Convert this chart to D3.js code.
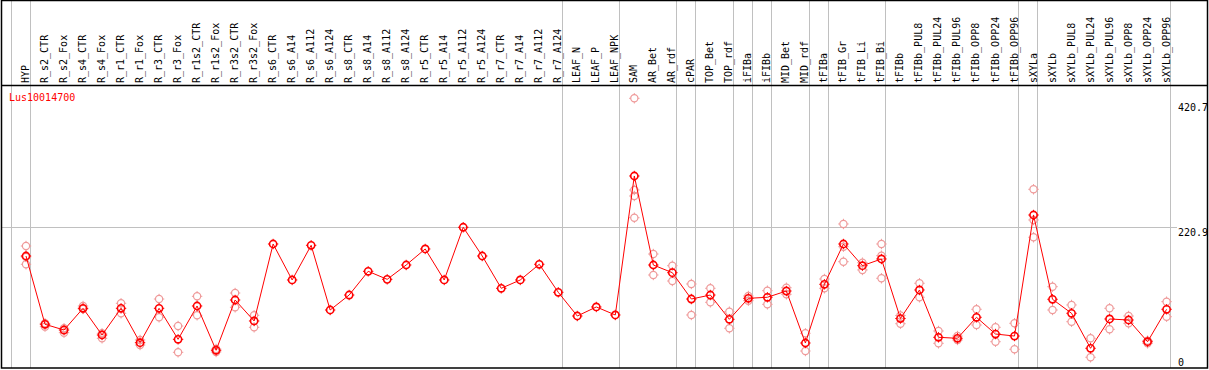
<!DOCTYPE html>
<html>
<head>
<meta charset="utf-8">
<script src="https://cdn.jsdelivr.net/npm/d3@7"></script>
<style>
  body { margin: 0; background: #fff; }
  svg { display: block; }
  text { font-family: "DejaVu Sans Mono", monospace; font-size: 10px; }
</style>
</head>
<body>
<div id="chart"></div>
<script>
// gene shown
var geneId = "Lus10014700";

// sample names, left to right
var categories = [
  "HYP", "R_s2_CTR", "R_s2_Fox", "R_s4_CTR", "R_s4_Fox", "R_r1_CTR", "R_r1_Fox",
  "R_r3_CTR", "R_r3_Fox", "R_r1s2_CTR", "R_r1s2_Fox", "R_r3s2_CTR", "R_r3s2_Fox",
  "R_s6_CTR", "R_s6_A14", "R_s6_A112", "R_s6_A124", "R_s8_CTR", "R_s8_A14",
  "R_s8_A112", "R_s8_A124", "R_r5_CTR", "R_r5_A14", "R_r5_A112", "R_r5_A124",
  "R_r7_CTR", "R_r7_A14", "R_r7_A112", "R_r7_A124", "LEAF_N", "LEAF_P", "LEAF_NPK",
  "SAM", "AR_Bet", "AR_rdf", "cPAR", "TOP_Bet", "TOP_rdf", "iFIBa", "iFIBb",
  "MID_Bet", "MID_rdf", "tFIBa", "tFIB_Gr", "tFIB_Li", "tFIB_Bi", "tFIBb",
  "tFIBb_PUL8", "tFIBb_PUL24", "tFIBb_PUL96", "tFIBb_OPP8", "tFIBb_OPP24", "tFIBb_OPP96",
  "sXYLa", "sXYLb", "sXYLb_PUL8", "sXYLb_PUL24", "sXYLb_PUL96", "sXYLb_OPP8",
  "sXYLb_OPP24", "sXYLb_OPP96"
];

// mean expression per sample
var means = [
  176.5, 70.8, 61.9, 95.5, 54.2, 95.5, 42.3, 95.5, 47.5, 99.1, 30.5, 108.4, 75.9,
  195.1, 139.4, 193.1, 92.9, 116.1, 152.8, 140.4, 162.6, 187.4, 139.4, 221.0, 176.5,
  126.5, 139.4, 163.7, 120.3, 83.6, 97.6, 85.2,
  300.4, 162.6, 150.7, 109.9, 116.1, 78.5, 111.0, 112.6, 122.3, 41.8, 132.7,
  195.1, 161.5, 171.9, 79.7, 123.9, 50.6, 49.1, 81.6, 55.7, 52.6,
  240.0, 109.5, 87.8, 33.6, 79.0, 77.4, 43.8, 94.0
];

// replicate values per sample
var replicates = [
  [192.0, 175.0, 163.7], [72.3, 67.1], [64.6, 57.8], [99.1, 94.5], [56.8, 49.1],
  [103.3, 87.8], [46.5, 38.7], [109.9, 81.6], [68.1, 27.4], [114.1, 84.7],
  [32.5, 27.9], [119.2, 97.1], [84.7, 66.1],
  [], [], [], [], [], [], [], [], [], [], [], [], [], [], [], [], [], [], [],
  [420.7, 278.7, 269.4, 235.8], [179.6, 147.1], [161.5, 137.8], [133.2, 85.2],
  [126.5, 104.8], [90.3, 64.6], [114.6, 107.3], [122.8, 101.7], [127.4, 117.2],
  [56.8, 29.4], [140.9, 126.5], [226.1, 190.9, 167.7], [166.2, 154.9],
  [195.1, 177.0, 142.0], [84.4, 71.7], [134.3, 112.6], [60.4, 41.3], [52.6, 46.5],
  [94.0, 69.7], [66.1, 43.8], [72.3, 32.1],
  [279.8, 232.3, 205.5], [129.0, 92.9], [100.7, 74.8], [49.1, 19.7], [95.5, 63.0],
  [83.6, 72.3], [45.4, 41.3], [105.8, 82.5]
];

// how many samples fall in each tissue group (separator lines)
var groupSizes = [1, 28, 3, 3, 1, 2, 1, 1, 2, 1, 3, 7, 1, 7];

// right-hand labels
var yTicks = [420.7, 220.9, 0];
var gridValue = 220.9;

var W = 1209, H = 370;
var headerY = 85, bottomY = 368, leftX = 1, rightX = 1207;

var svg = d3.select("#chart").append("svg")
  .attr("width", W)
  .attr("height", H);

var x = d3.scaleBand()
  .domain(categories)
  .range([10.7, 1170.3]);
var px = function(c) { return x(c) + x.bandwidth() * 0.805; };

var y = d3.scaleLinear()
  .domain([0, d3.max(yTicks)])
  .range([370, 98.3]);

// group separator lines, through header and plot
var bounds = [0];
groupSizes.forEach(function(n) { bounds.push(bounds[bounds.length - 1] + n); });
svg.append("g")
  .selectAll("line")
  .data(bounds)
  .enter().append("line")
    .attr("x1", function(b) { return Math.round(10.7 + b * x.step()) + 0.5; })
    .attr("x2", function(b) { return Math.round(10.7 + b * x.step()) + 0.5; })
    .attr("y1", 0)
    .attr("y2", bottomY)
    .attr("stroke", "#c0c0c0")
    .attr("stroke-width", 1);

// horizontal grid line
svg.append("line")
  .attr("x1", leftX)
  .attr("x2", 1177)
  .attr("y1", Math.round(y(gridValue)) + 0.5)
  .attr("y2", Math.round(y(gridValue)) + 0.5)
  .attr("stroke", "#c0c0c0");

// frame
svg.append("rect")
  .attr("x", leftX + 0.5)
  .attr("y", 0.5)
  .attr("width", rightX - leftX)
  .attr("height", bottomY - 0.5)
  .attr("fill", "none")
  .attr("stroke", "#000")
  .attr("stroke-width", 1.5);
svg.append("line")
  .attr("x1", leftX).attr("x2", rightX)
  .attr("y1", headerY + 0.5).attr("y2", headerY + 0.5)
  .attr("stroke", "#000")
  .attr("stroke-width", 1.5);

// column labels, rotated
svg.append("g")
  .selectAll("text")
  .data(categories)
  .enter().append("text")
    .attr("transform", function(c) { return "translate(" + (px(c) + 3) + "," + (headerY - 2) + ") rotate(-90)"; })
    .attr("fill", "#000")
    .text(function(c) { return c; });

// gene name
svg.append("text")
  .attr("x", 9)
  .attr("y", 100.5)
  .attr("fill", "#ff0000")
  .text(geneId);

// value labels on the right
svg.append("g")
  .selectAll("text")
  .data(yTicks)
  .enter().append("text")
    .attr("x", 1178)
    .attr("y", function(v) { return Math.max(110.5, Math.min(365.5, y(v) + 9)); })
    .attr("fill", "#000")
    .text(function(v) { return v; });

function marker(g, color, sw) {
  g.append("circle")
    .attr("r", 3.6)
    .attr("fill", "none")
    .attr("stroke", color)
    .attr("stroke-width", sw);
  [[0, -1], [0, 1], [-1, 0], [1, 0]].forEach(function(d) {
    g.append("line")
      .attr("x1", d[0] * 3.6).attr("y1", d[1] * 3.6)
      .attr("x2", d[0] * 5.2).attr("y2", d[1] * 5.2)
      .attr("stroke", color)
      .attr("stroke-width", 1);
  });
}

// replicates
var repData = [];
categories.forEach(function(c, i) {
  replicates[i].forEach(function(v) { repData.push({c: c, v: v}); });
});
svg.append("g")
  .selectAll("g")
  .data(repData)
  .enter().append("g")
    .attr("transform", function(d) { return "translate(" + px(d.c) + "," + y(d.v) + ")"; })
    .each(function() { marker(d3.select(this), "#ef9a9a", 1.2); });

// mean line
var meanData = categories.map(function(c, i) { return {c: c, v: means[i]}; });
svg.append("path")
  .datum(meanData)
  .attr("fill", "none")
  .attr("stroke", "#ff0000")
  .attr("stroke-width", 1)
  .attr("d", d3.line()
    .x(function(d) { return px(d.c); })
    .y(function(d) { return y(d.v); }));

// mean markers
svg.append("g")
  .selectAll("g")
  .data(meanData)
  .enter().append("g")
    .attr("transform", function(d) { return "translate(" + px(d.c) + "," + y(d.v) + ")"; })
    .each(function() { marker(d3.select(this), "#ff0000", 1.6); });
</script>
</body>
</html>
